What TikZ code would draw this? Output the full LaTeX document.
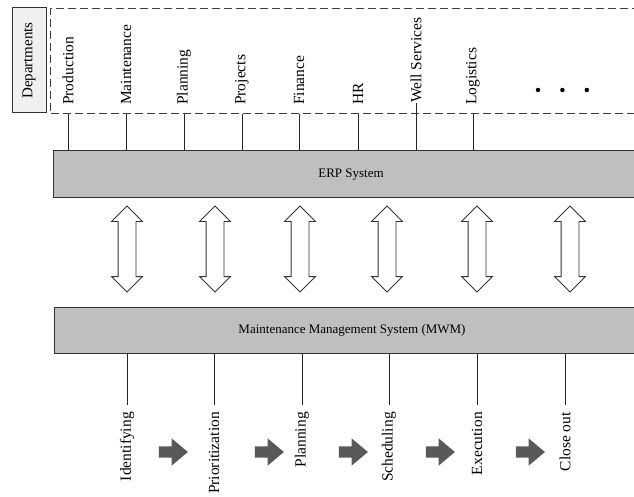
\documentclass[tikz,border=0pt]{standalone}
\usepackage{fontspec}
\setmainfont{Liberation Serif}
\usetikzlibrary{shapes,arrows,positioning}

\begin{document}
\begin{tikzpicture}
	[
		x=1pt, y=-1pt,
		deptlabel/.style={rotate=90, anchor=west, inner sep=0pt, font=\fontsize{15.5}{18}\selectfont},
		steplabel/.style={rotate=90, anchor=east, inner xsep=7pt, inner ysep=0pt, font=\fontsize{15.5}{18}\selectfont},
		sysbox/.style={rectangle, draw=black!80, fill=black!25, line width=1pt, minimum width=596pt, font=\fontsize{13}{15}\selectfont},
		deptbox/.style={rectangle, draw=black!80, fill=black!6, line width=1pt, rotate=90, minimum width=105pt, minimum height=34pt, inner sep=0pt, font=\fontsize{15}{18}\selectfont},
		deptframe/.style={rectangle, draw=black!75, line width=1pt, dash pattern=on 8pt off 4pt, anchor=north west, minimum width=650pt, minimum height=105pt},
		syncarrow/.style={double arrow, draw=black!80, fill=white, line width=0.8pt, rotate=90, minimum height=86pt, inner xsep=0pt, inner ysep=8.5pt, double arrow head extend=6.5pt},
		steparrow/.style={single arrow, fill=black!65, minimum height=29pt, inner xsep=0pt, inner ysep=5.5pt, single arrow head extend=8pt, single arrow tip angle=80},
		moredot/.style={circle, fill=black, inner sep=0pt, minimum size=4.5pt},
		link/.style={line width=0.8pt, black!85},
	]

	\useasboundingbox (0,0) rectangle (634,497);
	\clip (0,0) rectangle (634,497);

	% departments
	\node[deptframe] (frame) at (50,8) {};
	\node[deptbox] (departments) at (29,60.5) {Departments};

	\node[deptlabel] (production) at (68,105) {Production};
	\node[deptlabel] (maintenance) at (126,105) {Maintenance};
	\node[deptlabel] (planning) at (184,105) {Planning};
	\node[deptlabel] (projects) at (242,105) {Projects};
	\node[deptlabel] (finance) at (299,105) {Finance};
	\node[deptlabel] (hr) at (358,105) {HR};
	\node[deptlabel] (wellservices) at (416,103) {Well Services};
	\node[deptlabel] (logistics) at (473,105) {Logistics};

	\node[moredot] (more1) at (538,90) {};
	\node[moredot] (more2) [right=19.5pt of more1] {};
	\node[moredot] (more3) [right=19.5pt of more2] {};

	% systems
	\node[sysbox, minimum height=47pt] (erp) at (351,174.5) {ERP System};
	\node[sysbox, minimum height=46pt] (mwm) at (352,330) {Maintenance Management System (MWM)};

	\draw[link] (production.west |- frame.south) -- (production.west |- erp.north);
	\draw[link] (maintenance.west |- frame.south) -- (maintenance.west |- erp.north);
	\draw[link] (planning.west |- frame.south) -- (planning.west |- erp.north);
	\draw[link] (projects.west |- frame.south) -- (projects.west |- erp.north);
	\draw[link] (finance.west |- frame.south) -- (finance.west |- erp.north);
	\draw[link] (hr.west |- frame.south) -- (hr.west |- erp.north);
	\draw[link] (wellservices.west) -- (wellservices.west |- erp.north);
	\draw[link] (logistics.west |- frame.south) -- (logistics.west |- erp.north);

	\node[syncarrow] (sync1) at (127,249) {};
	\node[syncarrow] (sync2) at (215,249) {};
	\node[syncarrow] (sync3) at (300,249) {};
	\node[syncarrow] (sync4) at (387,249) {};
	\node[syncarrow] (sync5) at (477,249) {};
	\node[syncarrow] (sync6) at (570,249) {};

	% work order steps
	\node[steplabel] (identifying) at (127,405) {Identifying};
	\node[steplabel] (prioritization) at (214,405) {Prioritization};
	\node[steplabel] (planningstep) at (302,405) {Planning};
	\node[steplabel] (scheduling) at (389,405) {Scheduling};
	\node[steplabel] (execution) at (477,405) {Execution};
	\node[steplabel] (closeout) at (565,405) {Close out};

	\draw[link] (identifying.east |- mwm.south) -- (identifying.east);
	\draw[link] (prioritization.east |- mwm.south) -- (prioritization.east);
	\draw[link] (planningstep.east |- mwm.south) -- (planningstep.east);
	\draw[link] (scheduling.east |- mwm.south) -- (scheduling.east);
	\draw[link] (execution.east |- mwm.south) -- (execution.east);
	\draw[link] (closeout.east |- mwm.south) -- (closeout.east);

	\node[steparrow] (next1) at (170,452) {};
	\node[steparrow] (next2) at (266,452) {};
	\node[steparrow] (next3) at (350,452) {};
	\node[steparrow] (next4) at (437,452) {};
	\node[steparrow] (next5) at (527,452) {};

\end{tikzpicture}
\end{document}
